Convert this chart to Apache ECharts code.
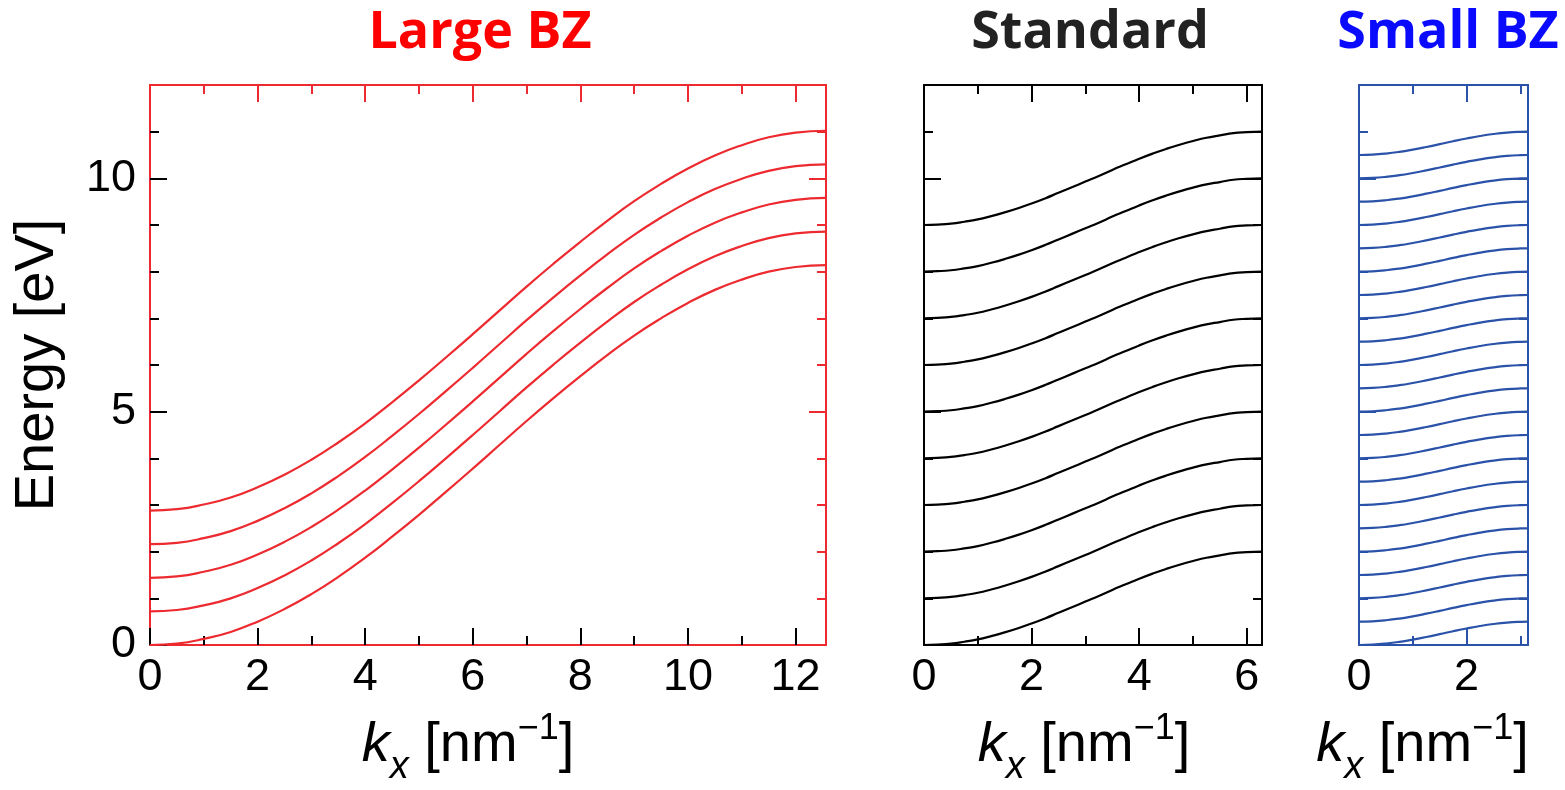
<!DOCTYPE html>
<html><head><meta charset="utf-8">
<script src="https://cdn.jsdelivr.net/npm/echarts@6/dist/echarts.min.js"></script>
<style>html,body{margin:0;padding:0;background:#fff}#c{width:1565px;height:790px}</style>
</head><body><div id="c"></div>
<script>
// ---- data ----
const panelTitles = ['Large BZ', 'Standard', 'Small BZ'];
const yMajorTicks = [0, 5, 10];
const yMinorTicks = [1, 2, 3, 4, 6, 7, 8, 9, 11];
const largeXMajor = [0, 2, 4, 6, 8, 10, 12];
const largeXMinor = [1, 3, 5, 7, 9, 11];
const stdXMajor = [0, 2, 4, 6];
const stdXMinor = [1, 3, 5];
const smallXMajor = [0, 2];
const smallXMinor = [1, 3];
const kRange = [12.566, 6.283, 3.1416];
const yRange = [0, 12];

// Large BZ: band shape vs k (lowest band), and band start energies
const largeK = [0, 0.5, 1, 1.5, 2, 2.5, 3, 3.5, 4, 4.5, 5, 5.5, 6, 6.5, 7, 7.5, 8, 8.5, 9, 9.5, 10, 10.5, 11, 11.5, 12, 12.566];
const largeShape = [0, 0.03, 0.13, 0.28, 0.50, 0.77, 1.09, 1.46, 1.87, 2.32, 2.79, 3.28, 3.78, 4.29, 4.80, 5.29, 5.76, 6.21, 6.63, 7.00, 7.33, 7.61, 7.83, 8.00, 8.10, 8.14];
const largeOffsets = [0, 0.72, 1.44, 2.16, 2.88];
// Standard
const stdK = [0, 0.25, 0.5, 0.75, 1, 1.25, 1.5, 1.75, 2, 2.25, 2.5, 2.75, 3, 3.25, 3.5, 3.75, 4, 4.25, 4.5, 4.75, 5, 5.25, 5.5, 5.75, 6, 6.283];
const stdShape = [0, 0.01, 0.03, 0.07, 0.12, 0.19, 0.27, 0.36, 0.46, 0.57, 0.69, 0.81, 0.93, 1.05, 1.18, 1.30, 1.42, 1.53, 1.63, 1.72, 1.80, 1.87, 1.92, 1.97, 1.99, 2.0];
const stdOffsets = [0, 1, 2, 3, 4, 5, 6, 7, 8, 9];
// Small BZ
const smallK = [0, 0.25, 0.5, 0.75, 1, 1.25, 1.5, 1.75, 2, 2.25, 2.5, 2.75, 3, 3.1416];
const smallShape = [0, 0.008, 0.031, 0.067, 0.115, 0.171, 0.232, 0.295, 0.354, 0.407, 0.450, 0.481, 0.497, 0.5];
const smallOffsets = [0, 0.5, 1, 1.5, 2, 2.5, 3, 3.5, 4, 4.5, 5, 5.5, 6, 6.5, 7, 7.5, 8, 8.5, 9, 9.5, 10, 10.5];

// ---- styling / layout ----
const RED = '#ec2a2f', BLUE = '#2a52a8';
const panels = [
  {k: largeK, shape: largeShape, offsets: largeOffsets, kMax: kRange[0], xMaj: largeXMajor, xMin: largeXMinor,
   line: RED, frame: RED, tickLB: '#000', tickRT: RED, left: 150, width: 676, showY: true, nameShift: 20,
   title: panelTitles[0], titleColor: '#ff0000', titleX: 480},
  {k: stdK, shape: stdShape, offsets: stdOffsets, kMax: kRange[1], xMaj: stdXMajor, xMin: stdXMinor,
   line: '#000', frame: '#000', tickLB: '#000', tickRT: '#000', left: 924, width: 338, showY: false, nameShift: 9,
   title: panelTitles[1], titleColor: '#222', titleX: 1090},
  {k: smallK, shape: smallShape, offsets: smallOffsets, kMax: kRange[2], xMaj: smallXMajor, xMin: smallXMinor,
   line: BLUE, frame: BLUE, tickLB: BLUE, tickRT: BLUE, left: 1359, width: 169, showY: false, nameShift: 21,
   title: panelTitles[2], titleColor: '#0a0aff', titleX: 1448}
];

const FONT = 'Liberation Sans';
const xName = '{k|k}{sub|x}{n| [nm}{sup|\u22121}{n|]}';
const xRich = {
  k: {fontFamily: FONT, fontSize: 56, fontStyle: 'italic', lineHeight: 100, color: '#000'},
  sub: {fontFamily: FONT, fontSize: 38, fontStyle: 'italic', lineHeight: 40, padding: [44, 0, 0, 0], color: '#000'},
  n: {fontFamily: FONT, fontSize: 56, lineHeight: 100, color: '#000'},
  sup: {fontFamily: FONT, fontSize: 36, lineHeight: 40, padding: [0, 0, 34, 0], color: '#000'}
};

const grids = [], xAxes = [], yAxes = [], series = [], graphics = [];

panels.forEach((p, gi) => {
  grids.push({left: p.left, top: 85, width: p.width, height: 560, containLabel: false, outerBoundsMode: 'none'});
  const base = gi * 4;
  [['bottom', true], ['bottom', false], ['top', true], ['top', false]].forEach(([pos, major]) => {
    const isBottom = pos === 'bottom';
    const showName = major && isBottom;
    xAxes.push({
      gridIndex: gi, type: 'value', position: pos, min: 0, max: p.kMax,
      axisLine: {show: major, onZero: false, lineStyle: {color: p.frame, width: 2}},
      axisTick: {show: true, inside: true, length: major ? 17 : 9, customValues: major ? p.xMaj : p.xMin,
                 lineStyle: {color: isBottom ? p.tickLB : p.tickRT, width: 2}},
      axisLabel: {show: showName, customValues: p.xMaj, margin: 10, fontSize: 45, fontFamily: FONT, color: '#000'},
      splitLine: {show: false}, minorTick: {show: false},
      name: showName ? xName : '', nameLocation: 'middle', nameGap: 47,
      nameTextStyle: {rich: xRich, padding: [0, 2 * p.nameShift, 0, 0]}
    });
  });
  [['left', true], ['left', false], ['right', true], ['right', false]].forEach(([pos, major]) => {
    const isLeft = pos === 'left';
    const showLab = major && isLeft && p.showY;
    yAxes.push({
      gridIndex: gi, type: 'value', position: pos, min: yRange[0], max: yRange[1],
      axisLine: {show: major, onZero: false, lineStyle: {color: p.frame, width: 2}},
      axisTick: {show: true, inside: true, length: major ? 17 : 9, customValues: major ? yMajorTicks : yMinorTicks,
                 lineStyle: {color: isLeft ? p.tickLB : p.tickRT, width: 2}},
      axisLabel: {show: showLab, customValues: yMajorTicks, margin: 14, fontSize: 45, fontFamily: FONT, color: '#000'},
      splitLine: {show: false}, minorTick: {show: false},
      name: showLab ? 'Energy [eV]' : '', nameLocation: 'middle', nameGap: 84,
      nameTextStyle: {fontFamily: FONT, fontSize: 56, color: '#000'}
    });
  });
  p.offsets.forEach(off => {
    series.push({
      type: 'line', xAxisIndex: base, yAxisIndex: base, smooth: true, showSymbol: false, silent: true,
      lineStyle: {color: p.line, width: 2.2}, animation: false,
      data: p.k.map((k, i) => [k, p.shape[i] + off])
    });
  });
  graphics.push({
    type: 'text', x: p.titleX, y: 33,
    style: {text: p.title, font: 'bold 52px "Open Sans"', fill: p.titleColor, align: 'center', verticalAlign: 'middle',
            textAlign: 'center', textVerticalAlign: 'middle'}
  });
});

const chart = echarts.init(document.getElementById('c'), null, {renderer: 'canvas'});
chart.setOption({
  animation: false,
  backgroundColor: '#fff',
  grid: grids, xAxis: xAxes, yAxis: yAxes, series: series, graphic: graphics
});
</script></body></html>
